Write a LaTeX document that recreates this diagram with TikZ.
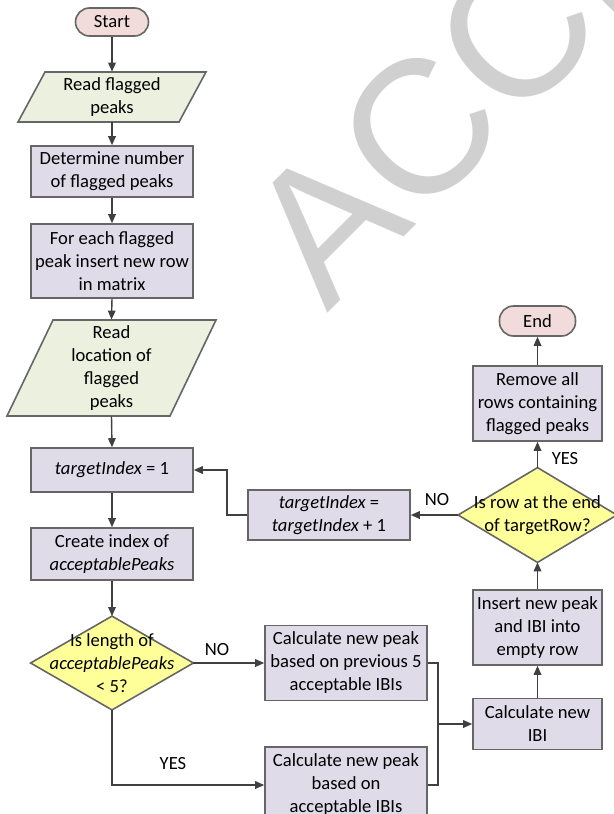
\documentclass[tikz,border=0pt]{standalone}
\usepackage{fontspec}
\setmainfont{Carlito}
\newfontfamily\wmfont{Liberation Sans}
\usetikzlibrary{arrows.meta,calc}
\definecolor{boxfill}{HTML}{DFDBE9}
\definecolor{greenfill}{HTML}{EBF1DE}
\definecolor{pinkfill}{HTML}{F2DCDB}
\definecolor{yellowfill}{HTML}{FFFF99}
\definecolor{edge}{HTML}{666666}
\definecolor{conn}{HTML}{404040}
\definecolor{wm}{HTML}{D0D0D0}
\newcommand{\txtsz}{\fontsize{9.3}{11.5}\selectfont}
\begin{document}
\begin{tikzpicture}[x=0.5pt,y=-0.5pt,
  every node/.style={inner sep=0pt,align=center,font=\txtsz},
  procbox/.style={draw=edge,fill=boxfill,line width=0.8pt},
  termbox/.style={draw=edge,fill=pinkfill,line width=0.8pt,rounded corners=7pt},
  iobox/.style={draw=edge,fill=greenfill,line width=0.8pt},
  decbox/.style={draw=edge,fill=yellowfill,line width=0.8pt},
  plain/.style={},
  conn/.style={draw=conn,line width=0.7pt},
  arr/.style={conn,-{Triangle[length=4.5pt,width=3.8pt]}},
  lbl/.style={font=\txtsz}
]
\useasboundingbox (0,0) rectangle (614,814);
\clip (0,0) rectangle (614,814);
\fill[white] (0,0) rectangle (614,814);
% watermark
\node[anchor=base west,rotate=45,align=left,font=\wmfont\fontsize{95}{100}\selectfont,text=wm] (wmk) at (327,314) {ACCEPTED MANUSCRIPT};

% parallelogram outlines
\draw[iobox] (18,122) -- (179,122) -- (206,72) -- (45,72) -- cycle;
\draw[iobox] (7,416) -- (170,416) -- (216,320) -- (53,320) -- cycle;

% left column
\node[termbox,minimum width=36.5pt,minimum height=14pt] (start) at (112,22) {Start};
\node[plain,minimum width=70pt,minimum height=25pt] (p1) at (112,97) {Read flagged\\peaks};
\node[procbox,minimum width=81pt,minimum height=25.5pt] (b1) at (112,171.5) {Determine number\\of flagged peaks};
\node[procbox,minimum width=81pt,minimum height=37pt] (b2) at (112,261) {For each flagged\\peak insert new row\\in matrix};
\node[plain,minimum width=60pt,minimum height=48pt] (p2) at (111.5,368) {Read\\location of\\flagged\\peaks};
\node[procbox,minimum width=81pt,minimum height=22pt] (ti1) at (112,470) {\textit{targetIndex} = 1};
\node[procbox,minimum width=81pt,minimum height=26pt] (ci) at (112,554) {Create index of\\\textit{acceptablePeaks}};
\node[plain,minimum width=81pt,minimum height=46.5pt] (d1) at (112,663) {};
\draw[decbox] (d1.north) -- (d1.east) -- (d1.south) -- (d1.west) -- cycle;
\node at (d1.center) {Is length of\\\textit{acceptablePeaks}\\< 5?};

% middle
\node[procbox,minimum width=81pt,minimum height=37.5pt] (c1) at (346,663) {Calculate new peak\\based on previous 5\\acceptable IBIs};
\node[procbox,minimum width=81pt,minimum height=38pt] (c2) at (346,785) {Calculate new peak\\based on\\acceptable IBIs};
\node[procbox,minimum width=81pt,minimum height=25pt] (ti2) at (329,515) {\textit{targetIndex} =\\\textit{targetIndex} + 1};

% right column
\node[procbox,minimum width=64.5pt,minimum height=25.5pt] (ibi) at (537.5,724) {Calculate new\\IBI};
\node[procbox,minimum width=64.5pt,minimum height=37.5pt] (ins) at (537.5,627.5) {Insert new peak\\and IBI into\\empty row};
\node[plain,minimum width=79pt,minimum height=47pt] (d2) at (537.5,515) {};
\draw[decbox] (d2.north) -- (d2.east) -- (d2.south) -- (d2.west) -- cycle;
\node at (d2.center) {Is row at the end\\of targetRow?};
\node[procbox,minimum width=64.5pt,minimum height=37.5pt] (rem) at (537.5,403.5) {Remove all\\rows containing\\flagged peaks};
\node[termbox,minimum width=38pt,minimum height=15pt] (end) at (537.5,321) {End};

% connectors
\draw[arr] (start.south) -- (p1.north);
\draw[arr] (p1.south) -- (b1.north);
\draw[arr] (b1.south) -- (b2.north);
\draw[arr] (b2.south) -- (p2.north);
\draw[arr] (p2.south) -- (ti1.north);
\draw[arr] (ti1.south) -- (ci.north);
\draw[arr] (ci.south) -- (d1.north);
\draw[arr] (d1.east) -- (c1.west);
\draw[arr] (d1.south) |- (c2.west);
\coordinate (j) at (438,724);
\draw[conn] (c1.east) -| (j);
\draw[conn] (c2.east) -| (j);
\draw[arr] (j) -- (ibi.west);
\draw[arr] (ibi.north) -- (ins.south);
\draw[arr] (ins.north) -- (d2.south);
\draw[arr] (d2.north) -- (rem.south);
\draw[arr] (rem.north) -- (end.south);
\draw[arr] (d2.west) -- (ti2.east);
\coordinate (k) at (227,515);
\draw[arr] (ti2.west) -- (k) |- (ti1.east);

% labels
\node[lbl] (no1) at (217,650) {NO};
\node[lbl] (yes1) at (173,764) {YES};
\node[lbl] (no2) at (437,500) {NO};
\node[lbl] (yes2) at (565,459) {YES};
\end{tikzpicture}
\end{document}
